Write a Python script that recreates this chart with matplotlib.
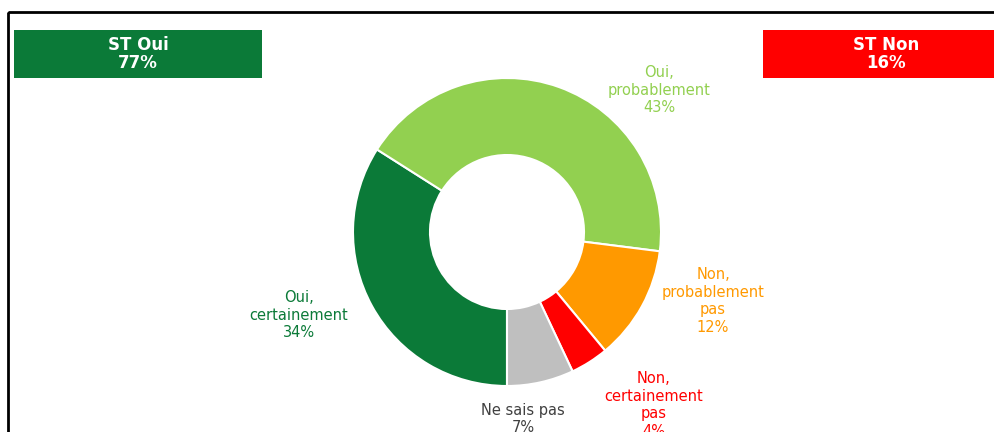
import matplotlib
matplotlib.use("Agg")
import matplotlib.pyplot as plt
from matplotlib.patches import Rectangle

# data
categories = ["Oui,\ncertainement", "Oui,\nprobablement", "Non,\nprobablement\npas",
              "Non,\ncertainement\npas", "Ne sais pas"]
values = [34, 43, 12, 4, 7]
colors = ["#0B7A38", "#92D050", "#FF9900", "#FF0000", "#BFBFBF"]
text_colors = ["#0B7A38", "#92D050", "#FF9900", "#FF0000", "#404040"]
summary_labels = ["ST Oui", "ST Non"]
summary_values = [77, 16]
summary_colors = ["#0B7A38", "#FF0000"]

# label centres in pixels (x, y from top)
label_pos = [(299, 315), (659, 90), (713, 301), (654, 405), (523, 419)]
box_pos = [(14, 30, 248, 48), (763, 30, 240, 48)]

W, H = 995, 432
fig = plt.figure(figsize=(W / 100, H / 100), dpi=100)

# background axes in pixel coords
bg = fig.add_axes([0, 0, 1, 1])
bg.set_xlim(0, W)
bg.set_ylim(H, 0)
bg.axis("off")
bg.add_patch(Rectangle((8, 12), W + 20, H + 20, fill=False, edgecolor="black", linewidth=2))

for (x, y, w, h), lab, v, c in zip(box_pos, summary_labels, summary_values, summary_colors):
    bg.add_patch(Rectangle((x, y), w, h, facecolor=c, edgecolor="none"))
    bg.text(x + (min(w, W - x)) / 2 if x < 500 else 886, y + h / 2, f"{lab}\n{v}%",
            ha="center", va="center", color="white", fontsize=12, fontweight="bold",
            linespacing=1.05)

for (x, y), cat, v, tc in zip(label_pos, categories, values, text_colors):
    bg.text(x, y, f"{cat}\n{v}%", ha="center", va="center", color=tc,
            fontsize=10.5, linespacing=1.2)

# donut
cx, cy, r = 507, 232, 154
ax = fig.add_axes([(cx - r) / W, (H - cy - r) / H, 2 * r / W, 2 * r / H])
ax.pie(values, colors=colors, startangle=-90, counterclock=False, radius=1,
       wedgeprops=dict(width=0.5, edgecolor="white", linewidth=1.5))
ax.set_xlim(-1, 1)
ax.set_ylim(-1, 1)
ax.set_aspect("equal")
ax.axis("off")

fig.savefig("out.png", dpi=100)
